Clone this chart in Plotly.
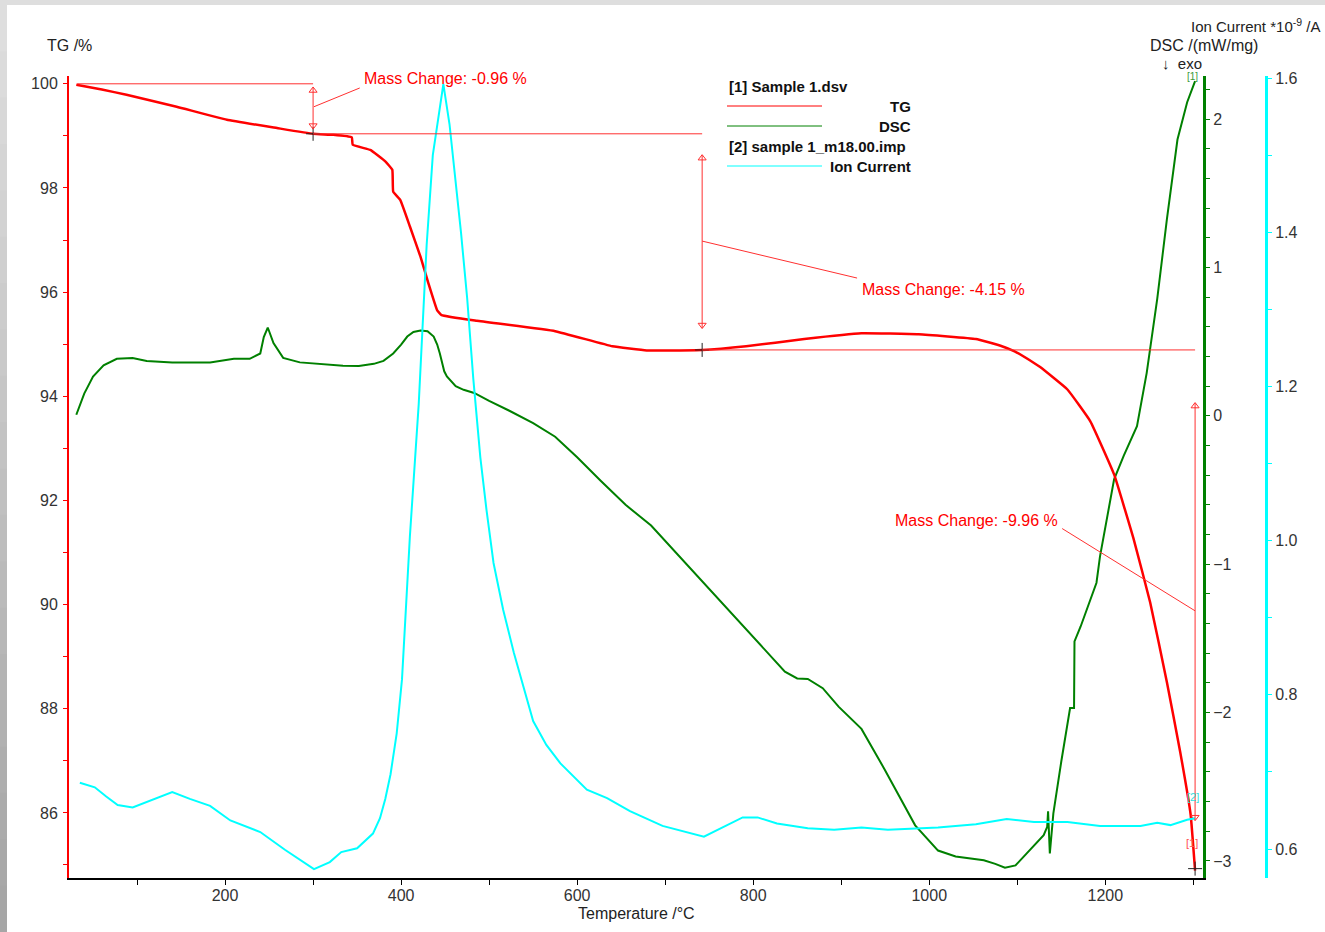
import plotly.graph_objects as go

# ---------------- data ----------------
temp_tg = [31, 60, 88, 145, 202, 259, 300, 323, 344, 345, 365, 382, 390, 391, 399, 410, 422, 431, 441, 446,
           486, 575, 640, 679, 742, 792, 858, 923, 988, 1053, 1081, 1097, 1119, 1126, 1157, 1183, 1210,
           1232, 1251, 1270, 1285, 1297, 1302]
tg = [99.98, 99.89, 99.79, 99.56, 99.31, 99.15, 99.04, 99.02, 98.97, 98.83, 98.73, 98.51, 98.35, 97.93,
      97.77, 97.26, 96.68, 96.17, 95.65, 95.56, 95.45, 95.25, 94.96, 94.88, 94.89, 94.96, 95.10, 95.21,
      95.19, 95.10, 94.97, 94.86, 94.64, 94.56, 94.13, 93.52, 92.50, 91.27, 90.04, 88.51, 87.18, 85.96, 84.89]

temp_dsc = [31, 40, 50, 62, 77, 95, 111, 140, 183, 210, 228, 240, 244, 248.5, 255, 266, 285, 310, 334, 352,
            369, 380, 391, 400, 407, 414, 422, 430, 437, 441, 444, 449, 452, 462, 471, 483, 500, 523, 550,
            575, 600, 627, 655, 684, 715, 749, 770, 792, 815, 836, 850, 862, 879, 897, 923, 949, 984, 1010,
            1030, 1044, 1062, 1075, 1086, 1098, 1111, 1122, 1130, 1134, 1135, 1137, 1141, 1150, 1160,
            1164.5, 1165, 1172, 1179, 1190, 1194, 1202, 1210, 1221, 1236, 1247, 1259, 1270, 1282, 1293, 1302]
dsc = [0.007, 0.15, 0.265, 0.34, 0.384, 0.39, 0.37, 0.36, 0.36, 0.384, 0.384, 0.42, 0.53, 0.595, 0.49,
       0.39, 0.36, 0.35, 0.337, 0.335, 0.35, 0.37, 0.42, 0.48, 0.534, 0.565, 0.575, 0.57, 0.534, 0.48, 0.42,
       0.30, 0.265, 0.2, 0.175, 0.154, 0.10, 0.034, -0.05, -0.141, -0.28, -0.44, -0.60, -0.74, -0.94,
       -1.163, -1.30, -1.437, -1.59, -1.724, -1.77, -1.774, -1.836, -1.96, -2.11, -2.38, -2.76, -2.93,
       -2.97, -2.98, -2.995, -3.02, -3.045, -3.03, -2.95, -2.88, -2.826, -2.77, -2.665, -2.95, -2.68,
       -2.33, -1.97, -1.97, -1.52, -1.42, -1.305, -1.125, -0.947, -0.68, -0.428, -0.268, -0.07, 0.288,
       0.788, 1.325, 1.862, 2.113, 2.256]

temp_ion = [35, 52, 65, 78, 95, 115, 140, 160, 183, 206, 240, 268, 301, 319, 332, 350, 360, 368, 376, 382,
            388, 395, 401, 410, 420, 429, 436, 441, 448, 455, 461, 468, 475, 482, 490, 497, 505, 516, 528,
            550, 565, 581, 611, 634, 660, 697, 744, 765, 788, 805, 827, 862, 892, 923, 953, 1010, 1053,
            1088, 1119, 1157, 1194, 1240, 1259, 1274, 1293, 1302]
ion = [0.686, 0.680, 0.668, 0.657, 0.654, 0.663, 0.674, 0.665, 0.656, 0.637, 0.622, 0.599, 0.574, 0.583,
       0.596, 0.601, 0.612, 0.62, 0.64, 0.665, 0.697, 0.75, 0.820, 1.006, 1.177, 1.383, 1.50, 1.541,
       1.592, 1.54, 1.479, 1.40, 1.315, 1.21, 1.108, 1.04, 0.971, 0.91, 0.855, 0.766, 0.735, 0.711, 0.677,
       0.666, 0.649, 0.630, 0.616, 0.628, 0.641, 0.641, 0.633, 0.627, 0.625, 0.628, 0.625, 0.628, 0.632,
       0.639, 0.635, 0.635, 0.630, 0.630, 0.634, 0.631, 0.638, 0.640]

# mass change evaluation
step_temps = [32, 300, 742, 1302]
step_levels = [100.0, 99.04, 94.89, 84.93]
step_labels = ["Mass Change: -0.96 %", "Mass Change: -4.15 %", "Mass Change: -9.96 %"]
arrow_spans = [(99.93, 99.14), (98.63, 95.31), (93.87, 85.86)]
leader_from = [(301, 99.56), (742, 96.98), (1302, 89.88)]
leader_to = [(353, 99.92), (918, 96.27), (1151, 91.46)]
label_pos = [(356, 100.11, "left"), (921, 96.06, "left"), (1149, 91.62, "right")]

legend_titles = ["[1] Sample 1.dsv", "[2] sample 1_m18.00.imp"]
legend_names = ["TG", "DSC", "Ion Current"]

RED = "#ff0000"
GREEN = "#008000"
CYAN = "#00ffff"
ANN = "#ff3030"
FONT = "Liberation Sans, Arial, sans-serif"

W, H = 1325, 932
L, R, T, B = 69, 59, 76, 54
PW, PH = W - L - R, H - T - B
TG_RANGE = [84.75, 100.15]
TG_PER_PX = (TG_RANGE[1] - TG_RANGE[0]) / PH


def px(x):
    return (x - L) / PW


def py(y):
    return (H - B - y) / PH


fig = go.Figure()

# DSC on the base y axis (drawn first), TG and Ion Current overlay
fig.add_trace(go.Scatter(x=temp_dsc, y=dsc, mode="lines", name="DSC", yaxis="y",
                         line=dict(color=GREEN, width=2)))
fig.add_trace(go.Scatter(x=temp_tg, y=tg, mode="lines", name="TG", yaxis="y2",
                         line=dict(color=RED, width=2.5, shape="spline", smoothing=0.3)))
fig.add_trace(go.Scatter(x=temp_ion, y=ion, mode="lines", name="Ion Current", yaxis="y3",
                         line=dict(color=CYAN, width=2)))
fig.add_trace(go.Scatter(x=step_temps[1:], y=step_levels[1:], mode="markers", yaxis="y2",
                         marker=dict(symbol="cross-thin", size=10, line=dict(width=1, color="#222")),
                         hoverinfo="skip"))

# arrow heads of the evaluation arrows (open triangles near both ends)
head_x = [step_temps[i + 1] for i in range(3) for _ in range(2)]
head_y = []
head_sym = []
for top, bot in arrow_spans:
    head_y += [top - 3 * TG_PER_PX, bot + 3 * TG_PER_PX]
    head_sym += ["triangle-up-open", "triangle-down-open"]
fig.add_trace(go.Scatter(x=head_x, y=head_y, mode="markers", yaxis="y2", hoverinfo="skip",
                         marker=dict(symbol=head_sym, size=7, color=ANN, line=dict(width=1, color=ANN))))

shapes = []
annotations = []

# horizontal reference lines
for i in range(3):
    shapes.append(dict(type="line", xref="x", yref="y2", x0=step_temps[i], x1=step_temps[i + 1],
                       y0=step_levels[i], y1=step_levels[i], line=dict(color=ANN, width=1)))
# leader lines
for (x0, y0), (x1, y1) in zip(leader_from, leader_to):
    shapes.append(dict(type="line", xref="x", yref="y2", x0=x0, x1=x1, y0=y0, y1=y1,
                       line=dict(color=ANN, width=1)))
# arrow shafts
for i, (top, bot) in enumerate(arrow_spans):
    xt = step_temps[i + 1]
    shapes.append(dict(type="line", xref="x", yref="y2", x0=xt, x1=xt, y0=top, y1=bot,
                       line=dict(color=ANN, width=1)))
# labels
for (lx, ly, anc), txt in zip(label_pos, step_labels):
    annotations.append(dict(x=lx, y=ly, xref="x", yref="y2", text=txt, showarrow=False,
                            xanchor=anc, yanchor="middle", font=dict(family=FONT, size=16, color=RED)))

# axis titles
annotations += [
    dict(x=px(69), y=py(45), xref="paper", yref="paper", text="TG /%", showarrow=False,
         xanchor="center", yanchor="middle", font=dict(family=FONT, size=16, color="#222")),
    dict(x=px(1204), y=py(45), xref="paper", yref="paper", text="DSC /(mW/mg)", showarrow=False,
         xanchor="center", yanchor="middle", font=dict(family=FONT, size=16, color="#222")),
    dict(x=px(1322), y=py(25), xref="paper", yref="paper", text="Ion Current *10<sup>-9</sup> /A",
         showarrow=False, xanchor="right", yanchor="middle", font=dict(family=FONT, size=15, color="#222")),
    dict(x=px(1160), y=py(63), xref="paper", yref="paper", text="↓  exo", showarrow=False,
         xanchor="left", yanchor="middle", font=dict(family=FONT, size=15, color="#222")),
    dict(x=px(636), y=py(913), xref="paper", yref="paper", text="Temperature /°C", showarrow=False,
         xanchor="center", yanchor="middle", font=dict(family=FONT, size=16, color="#222")),
    dict(x=px(1192), y=py(77), xref="paper", yref="paper", text="[1]", showarrow=False,
         xanchor="center", yanchor="middle", font=dict(family=FONT, size=10, color="#3a9a3a")),
    dict(x=px(1193), y=py(797), xref="paper", yref="paper", text="[2]", showarrow=False,
         xanchor="center", yanchor="middle", font=dict(family=FONT, size=11, color="#33dddd")),
    dict(x=px(1192), y=py(843), xref="paper", yref="paper", text="[1]", showarrow=False,
         xanchor="center", yanchor="middle", font=dict(family=FONT, size=11, color="#ff5050")),
]

# legend
leg_font = dict(family=FONT, size=15, color="#111")
annotations += [
    dict(x=px(727), y=py(87), xref="paper", yref="paper", text="<b>" + legend_titles[0] + "</b>",
         showarrow=False, xanchor="left", yanchor="middle", font=leg_font),
    dict(x=px(913), y=py(106), xref="paper", yref="paper", text="<b>" + legend_names[0] + "</b>",
         showarrow=False, xanchor="right", yanchor="middle", font=leg_font),
    dict(x=px(913), y=py(126), xref="paper", yref="paper", text="<b>" + legend_names[1] + "</b>",
         showarrow=False, xanchor="right", yanchor="middle", font=leg_font),
    dict(x=px(727), y=py(146), xref="paper", yref="paper", text="<b>" + legend_titles[1] + "</b>",
         showarrow=False, xanchor="left", yanchor="middle", font=leg_font),
    dict(x=px(913), y=py(166), xref="paper", yref="paper", text="<b>" + legend_names[2] + "</b>",
         showarrow=False, xanchor="right", yanchor="middle", font=leg_font),
]
for yy, col in [(106, RED), (126, GREEN), (166, CYAN)]:
    shapes.append(dict(type="line", xref="paper", yref="paper", x0=px(727), x1=px(822),
                       y0=py(yy), y1=py(yy), line=dict(color=col, width=1)))

# grey window frame
shapes.append(dict(type="rect", xref="paper", yref="paper", x0=px(0), x1=px(W), y0=py(0), y1=py(5),
                   fillcolor="#dedede", line=dict(width=0), layer="below"))
n = 20
for k in range(n):
    g = int(0xde - (0xde - 0xa6) * k / (n - 1))
    col = "#%02x%02x%02x" % (g, g, g)
    shapes.append(dict(type="rect", xref="paper", yref="paper", x0=px(0), x1=px(7),
                       y0=py(5 + k * (H - 5) / n), y1=py(5 + (k + 1) * (H - 5) / n + 1),
                       fillcolor=col, line=dict(width=0), layer="below"))

tickfont = dict(family=FONT, size=16, color="#333")

fig.update_layout(
    width=W, height=H,
    margin=dict(l=L, r=R, t=T, b=B),
    paper_bgcolor="white", plot_bgcolor="white",
    showlegend=False,
    shapes=shapes, annotations=annotations,
    xaxis=dict(domain=[0, (1203 - L) / PW], range=[22.7, 1311], showgrid=False, zeroline=False,
               showline=True, linecolor="#000", linewidth=2, ticks="outside", ticklen=5, tickwidth=1,
               tickcolor="#000", tick0=0, dtick=200, tickfont=tickfont, anchor="y2",
               ticklabelstandoff=-3,
               minor=dict(dtick=100, ticks="outside", ticklen=5, tickwidth=1, tickcolor="#000")),
    yaxis=dict(range=[-3.115, 2.29], side="right", anchor="x", showgrid=False, zeroline=False,
               showline=True, linecolor=GREEN, linewidth=3, ticks="outside", ticklen=4, tickwidth=1,
               tickcolor=GREEN, tick0=0, dtick=1, tickfont=tickfont,
               minor=dict(dtick=0.2, ticks="outside", ticklen=4, tickwidth=1, tickcolor=GREEN)),
    yaxis2=dict(range=TG_RANGE, side="left", overlaying="y", anchor="x", showgrid=False,
                zeroline=False, showline=True, linecolor=RED, linewidth=2, ticks="outside", ticklen=4,
                tickwidth=1, tickcolor=RED, tick0=0, dtick=2, tickfont=tickfont, ticklabelstandoff=2,
                minor=dict(dtick=1, ticks="outside", ticklen=4, tickwidth=1, tickcolor=RED)),
    yaxis3=dict(range=[0.5624, 1.6026], side="right", overlaying="y", anchor="free", position=1.0,
                showgrid=False, zeroline=False, showline=True, linecolor=CYAN, linewidth=3,
                ticks="outside", ticklen=4, tickwidth=1, tickcolor=CYAN, tick0=0.6, dtick=0.2,
                tickformat=".1f", tickfont=tickfont,
                minor=dict(dtick=0.1, ticks="outside", ticklen=4, tickwidth=1, tickcolor=CYAN)),
)

fig.write_html("out.html", config={"displayModeBar": False},
               post_script="document.body.style.margin='0';")
